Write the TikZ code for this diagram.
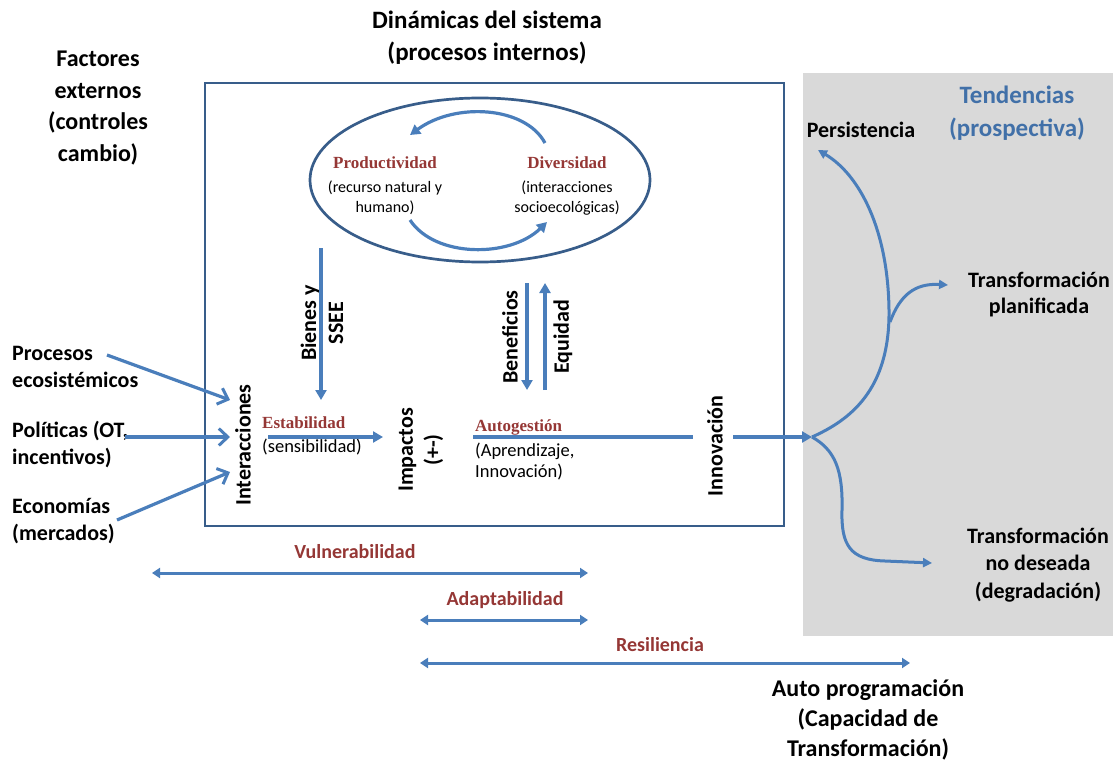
\documentclass[tikz,border=0pt]{standalone}
\usepackage{fontspec}
\setmainfont{Carlito}
\newfontfamily\serifrojo{Liberation Serif}
\usetikzlibrary{arrows.meta, positioning, shapes.geometric}
\definecolor{flecha}{HTML}{4A7EBB}
\definecolor{marco}{HTML}{385D8A}
\definecolor{rojo}{HTML}{953735}
\definecolor{tend}{HTML}{4170A8}
\definecolor{gris}{HTML}{D9D9D9}
\tikzset{
  etiqueta/.style={font=\fontsize{22}{27}\selectfont\bfseries, align=center, inner sep=0pt},
  titulo/.style={font=\fontsize{25}{32}\selectfont\bfseries, align=center, inner sep=0pt},
  rojoserif/.style={font=\fontsize{17}{20}\selectfont\serifrojo\bfseries, text=rojo, inner sep=0pt},
  rojosans/.style={font=\fontsize{20}{24}\selectfont\bfseries, text=rojo, inner sep=0pt},
  nota/.style={font=\fontsize{16}{20}\selectfont, align=center, inner sep=0pt},
  notagrande/.style={font=\fontsize{18.5}{21}\selectfont, align=left, inner sep=0pt},
  flujo/.style={draw=flecha, line width=3.2pt, -{Triangle[length=10pt,width=11pt]}},
  linea/.style={draw=flecha, line width=3.2pt},
  entrada/.style={draw=flecha, line width=3.2pt, -{Straight Barb[length=9pt,width=17pt,line width=3pt]}},
  rango/.style={draw=flecha, line width=3pt, {Triangle[length=8pt,width=10pt]}-{Triangle[length=8pt,width=10pt]}},
  rama/.style={draw=flecha, line width=3pt, -{Triangle[length=9pt,width=9pt]}}
}
\begin{document}
\begin{tikzpicture}[x=1pt, y=-1pt]
    \useasboundingbox (0,0) rectangle (1113,762);
    % zona de tendencias
    \fill[gris] (803,73) rectangle (1113,636);
    % sistema
    \draw[marco, line width=2.7pt] (205,83) rectangle (784,526);
    \node[draw=marco, line width=2.7pt, ellipse, minimum width=340pt, minimum height=164pt] (ciclo) at (480,180) {};

    % textos
    \node[titulo] (dinamicas) at (487,38) {Dinámicas del sistema\\(procesos internos)};
    \node[etiqueta, font=\fontsize{24}{31.5}\selectfont\bfseries] (factores) at (98,108) {Factores\\externos\\(controles\\cambio)};
    \node[etiqueta, anchor=west, align=left] (procesos) at (12,367) {Procesos\\ecosistémicos};
    \node[etiqueta, anchor=west, align=left] (politicas) at (12,444) {Políticas (OT,\\incentivos)};
    \node[etiqueta, anchor=west, align=left] (economias) at (12,521) {Economías\\(mercados)};

    \node[rojoserif] (prod) at (385,163) {Productividad};
    \node[nota] (prodnota) at (385,198) {(recurso natural y\\humano)};
    \node[rojoserif] (divers) at (567,163) {Diversidad};
    \node[nota] (diversnota) at (567,198) {(interacciones\\socioecológicas)};

    \node[etiqueta, rotate=90] (interac) at (243,445) {Interacciones};
    \node[etiqueta, rotate=90] (bienes) at (322,323) {Bienes y\\SSEE};
    \node[etiqueta, rotate=90] (benef) at (510,337) {Beneficios};
    \node[etiqueta, rotate=90] (equidad) at (563,337) {Equidad};
    \node[etiqueta, rotate=90] (impactos) at (421,450) {Impactos\\(+-)};
    \node[etiqueta, rotate=90] (innov) at (715,446) {Innovación};

    \node[rojoserif, anchor=west] (estab) at (262,423) {Estabilidad};
    \node[notagrande, anchor=west] (sensib) at (262,447) {(sensibilidad)};
    \node[rojoserif, anchor=west] (autog) at (475,427) {Autogestión};
    \node[notagrande, anchor=west] (aprend) at (475,462) {(Aprendizaje,\\Innovación)};

    \node[etiqueta] (persist) at (861,130) {Persistencia};
    \node[titulo, text=tend, font=\fontsize{25}{33}\selectfont\bfseries] (tendencias) at (1017,113) {Tendencias\\(prospectiva)};
    \node[etiqueta, font=\fontsize{22}{26}\selectfont\bfseries] (planif) at (1039,295) {Transformación\\planificada};
    \node[etiqueta, font=\fontsize{22}{27.5}\selectfont\bfseries] (nodeseada) at (1038,565) {Transformación\\no deseada\\(degradación)};

    \node[rojosans] (vulner) at (355,552) {Vulnerabilidad};
    \node[rojosans] (adapt) at (505,600) {Adaptabilidad};
    \node[rojosans] (resil) at (660,645) {Resiliencia};
    \node[etiqueta, font=\fontsize{24}{30}\selectfont\bfseries] (autoprog) at (868,720) {Auto programación\\(Capacidad de\\Transformación)};

    % ciclo interno
    \draw[flujo] (545,143) .. controls (525,106) and (455,102) .. (410,135);
    \draw[flujo] (410,220) .. controls (435,258) and (510,258) .. (547,222);

    % flujos verticales
    \coordinate (bienesA) at (321,248);
    \coordinate (bienesB) at (321,400);
    \coordinate (benefA) at (527,283);
    \coordinate (benefB) at (527,390);
    \coordinate (equidA) at (545,390);
    \coordinate (equidB) at (545,283);
    \draw[flujo] (bienesA) -- (bienesB);
    \draw[flujo] (benefA) -- (benefB);
    \draw[flujo] (equidA) -- (equidB);

    % entradas externas
    \coordinate (entA) at (230,400);
    \coordinate (entB) at (230,437);
    \coordinate (entC) at (230,472);
    \draw[entrada] (107,355) -- (entA);
    \draw[entrada] (125,437) -- (entB);
    \draw[entrada] (117,520) -- (entC);

    % flujo principal
    \coordinate (estabA) at (268,437);
    \coordinate (impA) at (383,437);
    \coordinate (autoA) at (473,437);
    \coordinate (innovA) at (693,437);
    \coordinate (innovB) at (733,437);
    \coordinate (split) at (812,437);
    \draw[flujo] (estabA) -- (impA);
    \draw[linea] (autoA) -- (innovA);
    \draw[flujo] (innovB) -- (split);

    % tendencias
    \coordinate (persistA) at (818,150);
    \coordinate (ramaA) at (890,322);
    \coordinate (planifA) at (948,285);
    \coordinate (deseadaA) at (932,563);
    \draw[rama] (split) .. controls (850,420) and (890,390) .. (889,310) .. controls (888,230) and (860,175) .. (persistA);
    \draw[rama] (ramaA) .. controls (900,295) and (915,283) .. (planifA);
    \draw[rama] (split) .. controls (835,450) and (843,470) .. (842,510) .. controls (841,545) and (850,560) .. (885,561) -- (deseadaA);

    % rangos
    \draw[rango] (152,573) -- (588,573);
    \draw[rango] (420,620) -- (588,620);
    \draw[rango] (420,663) -- (910,663);
\end{tikzpicture}
\end{document}
